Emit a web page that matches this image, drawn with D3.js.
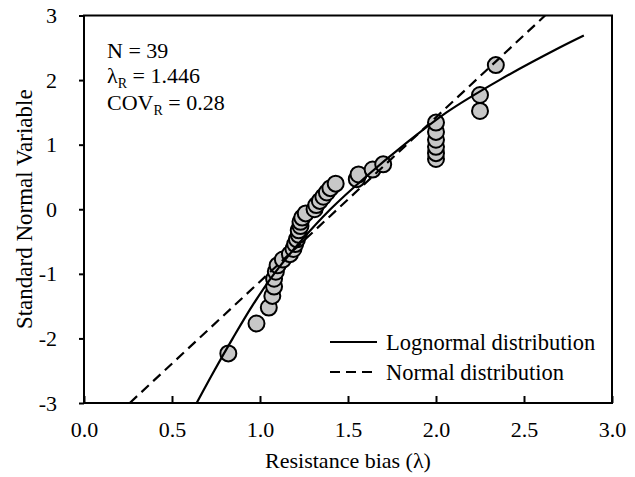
<!DOCTYPE html>
<html><head><meta charset="utf-8">
<script src="https://cdn.jsdelivr.net/npm/d3@7"></script>
<style>body{margin:0;background:#fff}svg{display:block}text{font-family:"Liberation Serif","Times New Roman",serif;fill:#000}</style>
</head><body><svg id="c" width="635" height="477"></svg>
<script>
// Observed data: resistance bias sorted, and standard normal variable (plotting position)
const biasValues = [0.82,0.98,1.05,1.07,1.08,1.08,1.09,1.10,1.13,1.17,1.19,1.20,1.21,1.22,1.22,1.23,1.23,1.24,1.26,1.31,1.32,1.34,1.36,1.38,1.40,1.43,1.55,1.56,1.64,1.70,2.00,2.00,2.00,2.00,2.00,2.00,2.25,2.25,2.34];
const snvValues = [-2.232,-1.769,-1.522,-1.342,-1.198,-1.076,-0.967,-0.869,-0.779,-0.695,-0.615,-0.539,-0.466,-0.396,-0.327,-0.260,-0.194,-0.129,-0.064,0,0.064,0.129,0.194,0.260,0.327,0.396,0.466,0.539,0.615,0.695,0.779,0.869,0.967,1.076,1.198,1.342,1.522,1.769,2.232];
// Fitted curves
const lognormX = [0.64,0.74,0.845,0.955,1.08,1.23,1.40,1.60,1.82,2.06,2.36,2.70,2.84];
const lognormZ = [-3,-2.5,-2,-1.5,-1,-0.5,0,0.5,1,1.5,2,2.5,2.69];
const normalX = [0.26,2.62];
const normalZ = [-3,3];
const xTicks = [0,0.5,1.0,1.5,2.0,2.5,3.0];
const yTicks = [-3,-2,-1,0,1,2,3];
const legendLabels = ["Lognormal distribution","Normal distribution"];

const svg = d3.select("#c");
const L=84, R=612, T=15.5, B=403;
const x = d3.scaleLinear().domain([0,3]).range([L,R]);
const y = d3.scaleLinear().domain([-3,3]).range([B,T]);

svg.append("defs").append("clipPath").attr("id","clip").append("rect")
  .attr("x",L).attr("y",T).attr("width",R-L).attr("height",B-T);

// axes
const xa = svg.append("g").attr("transform",`translate(0,${B})`)
  .call(d3.axisBottom(x).tickValues(xTicks).tickFormat(d3.format(".1f")).tickSizeInner(-7).tickSizeOuter(0).tickPadding(18));
const ya = svg.append("g").attr("transform",`translate(${L},0)`)
  .call(d3.axisLeft(y).tickValues(yTicks).tickFormat(d=>d).tickSizeInner(5).tickSizeOuter(0).tickPadding(22));
[xa,ya].forEach(g=>{
  g.select(".domain").remove();
  g.selectAll("line").attr("stroke","#000").attr("stroke-width",2);
  g.selectAll("text").style("font-size","22px").attr("fill","#000");
});
xa.selectAll("text").attr("dy","0.71em");
// frame
svg.append("rect").attr("x",L).attr("y",T).attr("width",R-L).attr("height",B-T)
  .attr("fill","none").attr("stroke","#000").attr("stroke-width",2);

// points
const pts = biasValues.map((v,i)=>({x:v,z:snvValues[i]}));
svg.append("g").attr("clip-path","url(#clip)").selectAll("circle").data(pts).join("circle")
  .attr("cx",d=>x(d.x)).attr("cy",d=>y(d.z)).attr("r",8)
  .attr("fill","#c8c8c8").attr("stroke","#000").attr("stroke-width",2);

// curves
const cg = svg.append("g").attr("clip-path","url(#clip)");
cg.append("path").datum(lognormX.map((v,i)=>[v,lognormZ[i]]))
  .attr("d",d3.line().x(d=>x(d[0])).y(d=>y(d[1])).curve(d3.curveCatmullRom))
  .attr("fill","none").attr("stroke","#000").attr("stroke-width",2.2);
cg.append("path").datum(normalX.map((v,i)=>[v,normalZ[i]]))
  .attr("d",d3.line().x(d=>x(d[0])).y(d=>y(d[1])))
  .attr("fill","none").attr("stroke","#000").attr("stroke-width",2.2).attr("stroke-dasharray","10,6");

// annotation
const ann = svg.append("g").style("font-size","22px");
ann.append("text").attr("x",107).attr("y",58).text("N = 39");
const t2 = ann.append("text").attr("x",107).attr("y",83);
t2.append("tspan").text("λ");
t2.append("tspan").attr("dy",5).style("font-size","14px").text("R");
t2.append("tspan").attr("dy",-5).text(" = 1.446");
const t3 = ann.append("text").attr("x",107).attr("y",110);
t3.append("tspan").text("COV");
t3.append("tspan").attr("dy",5).style("font-size","14px").text("R");
t3.append("tspan").attr("dy",-5).text(" = 0.28");

// legend
const lg = svg.append("g");
legendLabels.forEach((lab,i)=>{
  const yy = 342 + i*30;
  lg.append("line").attr("x1",330).attr("x2",377).attr("y1",yy).attr("y2",yy)
    .attr("stroke","#000").attr("stroke-width",2.2).attr("stroke-dasharray", i? "10,6":null);
  lg.append("text").attr("x",386).attr("y",yy).attr("dy","0.35em").style("font-size","22.5px").text(lab);
});

// axis titles
svg.append("text").attr("x",(L+R)/2).attr("y",468).attr("text-anchor","middle").style("font-size","22px").text("Resistance bias (λ)");
svg.append("text").attr("transform",`translate(32,${(T+B)/2}) rotate(-90)`).attr("text-anchor","middle").style("font-size","23px").text("Standard Normal Variable");
</script></body></html>
